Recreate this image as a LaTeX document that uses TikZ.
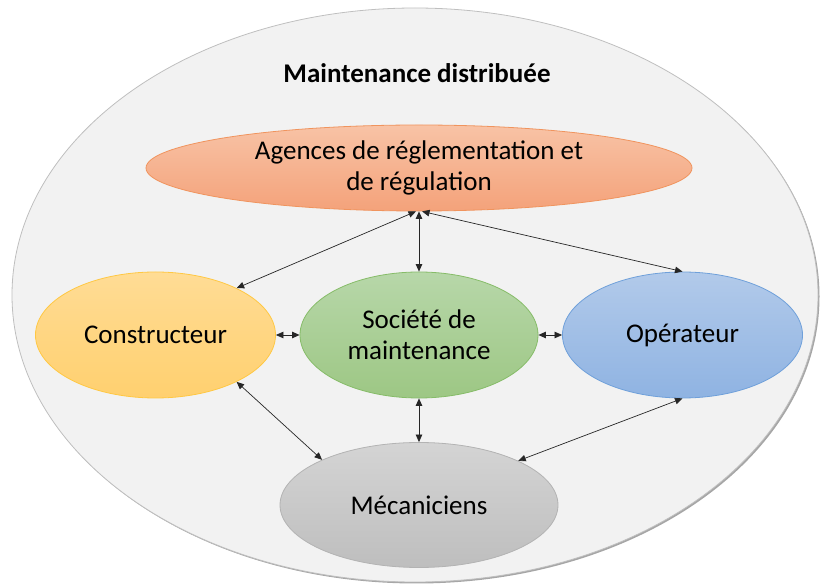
\documentclass[tikz,border=0pt]{standalone}
\usepackage{fontspec}
\setmainfont{Carlito}
\usetikzlibrary{shapes.geometric,arrows.meta}
\definecolor{outerfill}{HTML}{F2F2F2}
\definecolor{outerline}{HTML}{BFBFBF}
\definecolor{outershadow}{HTML}{A6A6A6}
\definecolor{agtop}{HTML}{F8C3A6}
\definecolor{agbot}{HTML}{F4A27A}
\definecolor{agline}{HTML}{F0945E}
\definecolor{cotop}{HTML}{FFDC95}
\definecolor{cobot}{HTML}{FFD06F}
\definecolor{coline}{HTML}{FFC843}
\definecolor{sotop}{HTML}{B7D7A9}
\definecolor{sobot}{HTML}{9DC784}
\definecolor{soline}{HTML}{86BC68}
\definecolor{optop}{HTML}{B2CAEA}
\definecolor{opbot}{HTML}{8FB3E2}
\definecolor{opline}{HTML}{6FA0DA}
\definecolor{metop}{HTML}{D4D4D4}
\definecolor{mebot}{HTML}{BEBEBE}
\definecolor{meline}{HTML}{B3B3B3}
\begin{document}
\begin{tikzpicture}[x=1pt,y=1pt,
  oval/.style={ellipse, inner sep=0pt, line width=0.8pt},
  lbl/.style={font=\fontsize{27}{31}\selectfont, align=center, text=black, inner sep=0pt},
  link/.style={{Triangle[length=7.5pt,width=6.5pt]}-{Triangle[length=7.5pt,width=6.5pt]}, line width=0.7pt, draw=black!85},
]
\useasboundingbox (0,0) rectangle (820,584);
% outer ellipse with soft shadow
\fill[outershadow] (416.5,287.5) ellipse [x radius=403, y radius=287];
\node[oval, fill=outerfill, draw=outerline, minimum width=806pt, minimum height=574pt] (outer) at (415,289) {};
\node[font=\fontsize{27}{31}\selectfont\bfseries, inner sep=0pt] (title) at (417,511) {Maintenance distribuée};
% inner ellipses
\node[oval, top color=agtop, bottom color=agbot, draw=agline, minimum width=546pt, minimum height=86pt,
      label={[lbl]center:{Agences de réglementation et\\de régulation}}] (ag) at (419,416) {};
\node[oval, top color=cotop, bottom color=cobot, draw=coline, minimum width=240pt, minimum height=126pt,
      label={[lbl]center:Constructeur}] (co) at (155.5,249) {};
\node[oval, top color=sotop, bottom color=sobot, draw=soline, minimum width=238pt, minimum height=126pt,
      label={[lbl]center:{Société de\\maintenance}}] (so) at (419,249) {};
\node[oval, top color=optop, bottom color=opbot, draw=opline, minimum width=240pt, minimum height=126pt,
      label={[lbl]center:Opérateur}] (op) at (682.5,249) {};
\node[oval, top color=metop, bottom color=mebot, draw=meline, minimum width=278pt, minimum height=125pt,
      label={[lbl]center:Mécaniciens}] (me) at (419,79) {};
% connectors
\draw[link] (ag.266) -- (co.30);
\draw[link] (ag.south) -- (so.north);
\draw[link] (ag.274) -- (op.north);
\draw[link] (co.east) -- (so.west);
\draw[link] (so.east) -- (op.west);
\draw[link] (co.-30) -- (me.155);
\draw[link] (so.south) -- (me.north);
\draw[link] (me.24) -- (op.south);
\end{tikzpicture}
\end{document}
